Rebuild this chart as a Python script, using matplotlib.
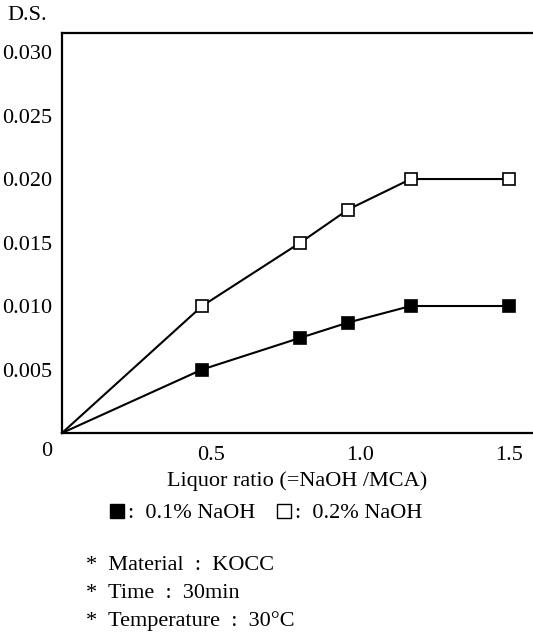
import matplotlib
matplotlib.use('Agg')
import matplotlib.pyplot as plt

plt.rcParams['font.family'] = ['Liberation Serif', 'DejaVu Serif']

# liquor ratio (=NaOH/MCA) and degree of substitution
liquor_ratio = [0, 0.47, 0.80, 0.96, 1.17, 1.50]
ds_01 = [0, 0.0050, 0.0075, 0.0087, 0.0100, 0.0100]
ds_02 = [0, 0.0100, 0.0150, 0.0176, 0.0200, 0.0200]
series_labels = [':  0.1% NaOH', ':  0.2% NaOH']
y_ticks = [0.005, 0.010, 0.015, 0.020, 0.025, 0.030]
x_ticks = [0.5, 1.0, 1.5]
notes = ['*  Material  :  KOCC', '*  Time  :  30min', '*  Temperature  :  30°C']

FS = 16

fig = plt.figure(figsize=(5.33, 6.35), dpi=100)
ax = fig.add_axes([62 / 533, 1 - 433 / 635, 1 - 62 / 533, 400 / 635])

l1, = ax.plot(liquor_ratio, ds_01, color='black', lw=1.5, marker='s', ms=9,
              mfc='black', mec='black', mew=1.2, clip_on=False)
l2, = ax.plot(liquor_ratio, ds_02, color='black', lw=1.5, marker='s', ms=9,
              mfc='white', mec='black', mew=1.2, clip_on=False)
# no marker at the origin
l1.set_markevery(list(range(1, len(liquor_ratio))))
l2.set_markevery(list(range(1, len(liquor_ratio))))

ax.set_xlim(0, 1.58)
ax.set_ylim(0, 0.0315)
ax.spines['right'].set_visible(False)
for s in ['left', 'top', 'bottom']:
    ax.spines[s].set_linewidth(1.6)

ax.set_yticks(y_ticks)
ax.set_yticklabels([f'{v:.3f}' for v in y_ticks])
ax.set_xticks(x_ticks)
ax.set_xticklabels([f'{v:.1f}' for v in x_ticks])
ax.tick_params(length=0, labelsize=FS, pad=7)
ax.tick_params(axis='x', pad=9)
ax.annotate('0', xy=(0, 0), xytext=(-15, -19), textcoords='offset pixels',
            ha='center', va='center', fontsize=FS)

ax.set_xlabel('Liquor ratio (=NaOH /MCA)', fontsize=FS, labelpad=5)
fig.text(7 / 533, 1 - 15 / 635, 'D.S.', fontsize=FS, ha='left', va='center')

leg_handles = [
    plt.Line2D([], [], ls='none', marker='s', ms=10, mfc='black', mec='black'),
    plt.Line2D([], [], ls='none', marker='s', ms=10, mfc='white', mec='black'),
]
fig.legend(leg_handles, series_labels, loc='center', ncol=2, frameon=False,
           bbox_to_anchor=(266 / 533, 1 - 513 / 635), fontsize=FS,
           handlelength=0.6, handletextpad=0.2, columnspacing=1.0)

for i, line in enumerate(notes):
    fig.text(86 / 533, 1 - (565 + 28 * i) / 635, line, fontsize=FS,
             ha='left', va='center')

fig.savefig('out.png', dpi=100)
